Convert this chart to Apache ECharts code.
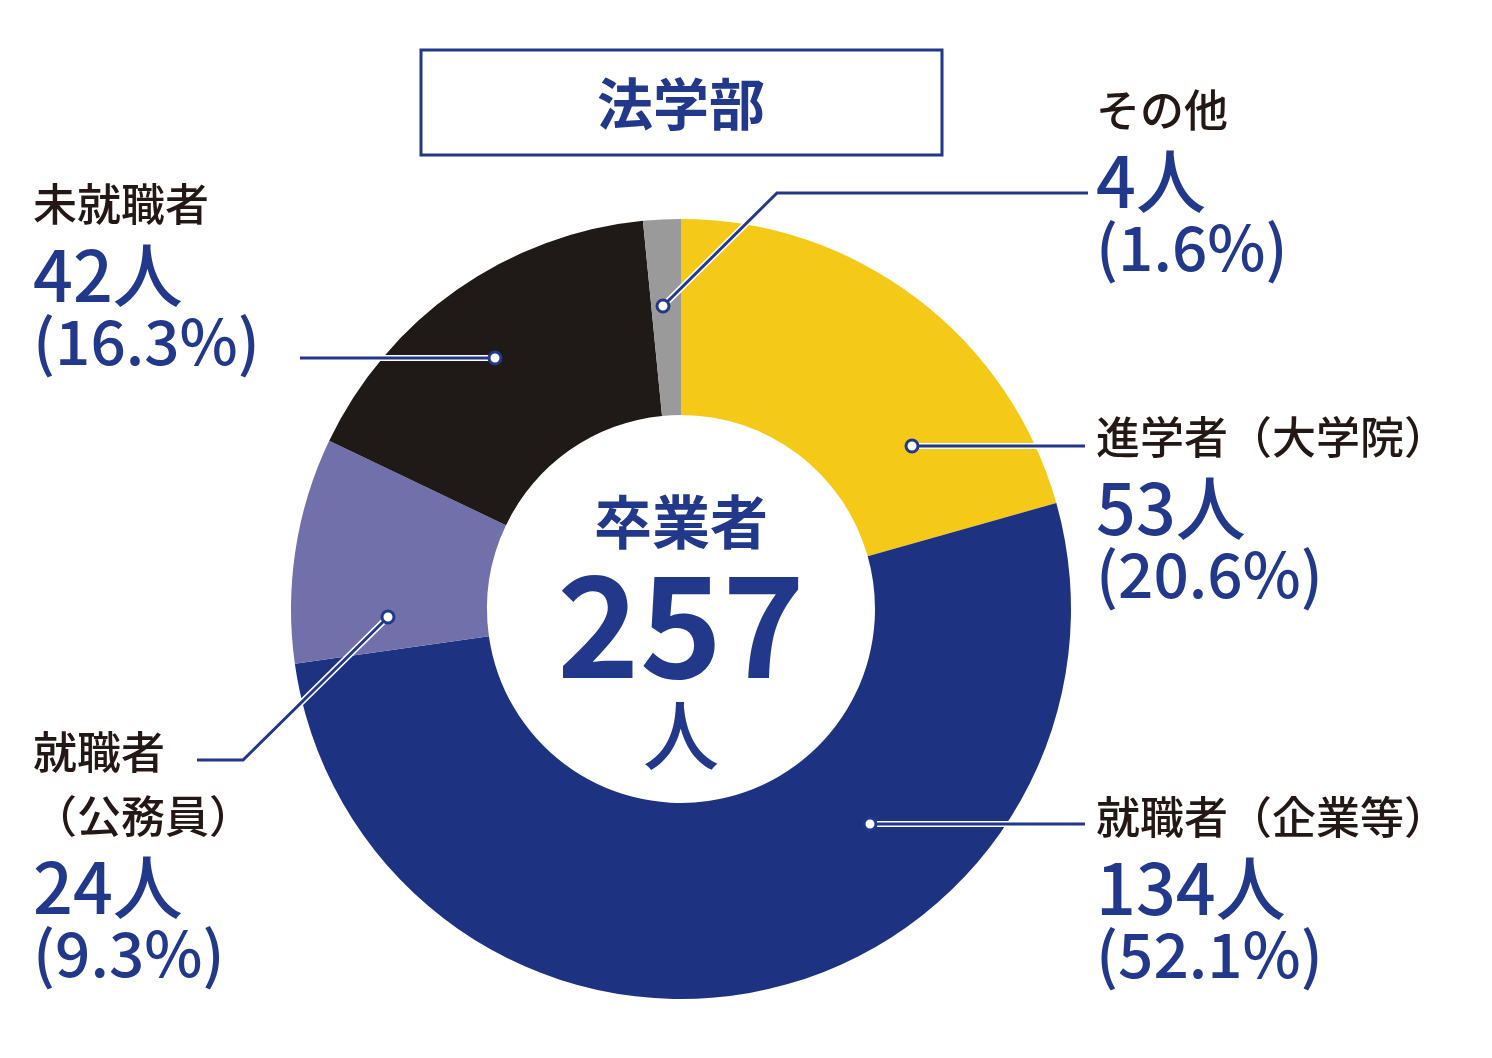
<!DOCTYPE html>
<html><head><meta charset="utf-8">
<script src="https://cdn.jsdelivr.net/npm/echarts@6/dist/echarts.min.js"></script>
<style>html,body{margin:0;padding:0;background:#fff}#c{width:1492px;height:1058px}</style>
</head><body><div id="c"></div>
<script>
const categories = ['進学者（大学院）','就職者（企業等）','就職者（公務員）','未就職者','その他'];
const values = [53, 134, 24, 42, 4];
const percents = ['20.6%','52.1%','9.3%','16.3%','1.6%'];
const colors = ['#F5C918','#1E3282','#7170AA','#1F1A17','#9A9A9A'];
const total = 257;
const NAVY = '#22388A';
const F = '"Noto Sans CJK JP","Noto Sans",sans-serif';
const chart = echarts.init(document.getElementById('c'));

function labelBlock(x, y, nameLines, idx) {
  const els = [];
  let yy = y;
  nameLines.forEach(n => {
    els.push({type:'text', left:x, top:yy, z:20, style:{text:n, font:'500 44px '+F, fill:'#231815'}});
    yy += 64;
  });
  els.push({type:'text', left:x, top:yy-6, z:20, style:{text:values[idx]+'人', font:'500 70px '+F, fill:NAVY}});
  els.push({type:'text', left:x, top:yy+64, z:20, style:{text:'('+percents[idx]+')', font:'500 62px '+F, fill:NAVY}});
  return els;
}
function leader(points) {
  const dot = points[points.length-1];
  return [
    {type:'polyline', z:15, shape:{points}, style:{stroke:'#fff', lineWidth:6, fill:null}},
    {type:'polyline', z:16, shape:{points}, style:{stroke:NAVY, lineWidth:3, fill:null}},
    {type:'circle', z:17, shape:{cx:dot[0], cy:dot[1], r:6}, style:{fill:'#fff', stroke:NAVY, lineWidth:3}}
  ];
}

chart.setOption({
  animation:false,
  series:[{
    type:'pie', center:[681,609], radius:[194,390], startAngle:90, clockwise:true,
    label:{show:false}, labelLine:{show:false}, silent:true,
    data: categories.map((c,i)=>({name:c, value:values[i], itemStyle:{color:colors[i]}}))
  }],
  graphic:[
    {type:'rect', z:10, shape:{x:421,y:50,width:521,height:105}, style:{fill:'#fff', stroke:NAVY, lineWidth:3}},
    {type:'text', z:11, x:681, y:104, style:{text:'法学部', font:'bold 56px '+F, fill:NAVY, align:'center', verticalAlign:'middle'}},
    {type:'text', z:11, x:681, y:522, style:{text:'卒業者', font:'bold 58px '+F, fill:NAVY, align:'center', verticalAlign:'middle'}},
    {type:'text', z:11, x:681, y:625, style:{text:String(total), font:'bold 140px '+F, fill:NAVY, align:'center', verticalAlign:'middle'}},
    {type:'text', z:11, x:681, y:735, style:{text:'人', font:'500 76px '+F, fill:NAVY, align:'center', verticalAlign:'middle'}},
    ...labelBlock(1096, 88, ['その他'], 4),
    ...labelBlock(33, 182, ['未就職者'], 3),
    ...labelBlock(1096, 415, ['進学者（大学院）'], 0),
    ...labelBlock(1096, 795, ['就職者（企業等）'], 1),
    ...labelBlock(33, 730, ['就職者','（公務員）'], 2),
    ...leader([[1088,193],[777,193],[663,306]]),
    ...leader([[300,358],[495,358]]),
    ...leader([[1085,446],[912,446]]),
    ...leader([[1085,824],[870,824]]),
    ...leader([[197,760],[243,760],[388,617]])
  ]
});
</script></body></html>
